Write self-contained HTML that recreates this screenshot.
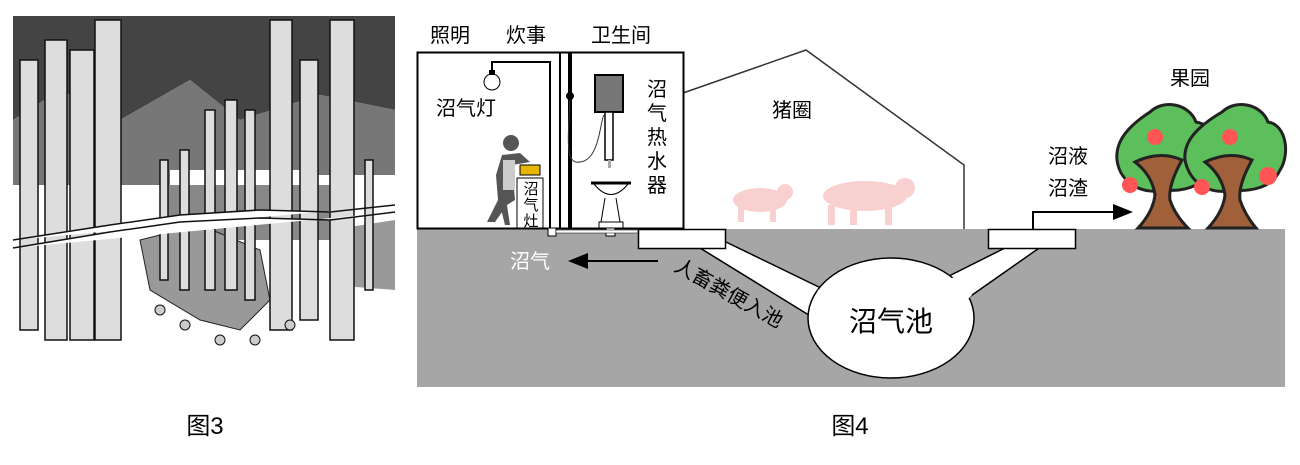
<!DOCTYPE html>
<html><head><meta charset="utf-8"><style>
body{margin:0;width:1300px;height:460px;background:#fff;overflow:hidden;font-family:"Liberation Sans","Noto Sans CJK SC",sans-serif}
svg text{font-family:"Liberation Sans","Noto Sans CJK SC",sans-serif}
</style></head><body>
<svg width="1300" height="460" viewBox="0 0 1300 460">
<!-- Figure 3 forest -->
<g>
<rect x="13" y="16" width="382" height="346" fill="#fff"/>
<path d="M13 16H395V110L320 95 240 120 190 80 120 120 60 90 13 120Z" fill="#444"/>
<path d="M13 120 60 90 120 120 190 80 240 120 320 95 395 110V175H300V170H170V185H13Z" fill="#777"/>
<path d="M160 185H330V240H160Z" fill="#888"/>
<path d="M140 240 200 225 260 250 270 300 240 330 200 320 150 290Z" fill="#999" stroke="#222"/>
<path d="M330 230 395 220V290L330 285Z" fill="#999"/>
<g fill="#ddd" stroke="#111" stroke-width="1.5">
<rect x="20" y="60" width="18" height="270"/>
<rect x="45" y="40" width="22" height="300"/>
<rect x="70" y="50" width="24" height="290"/>
<rect x="95" y="20" width="26" height="320"/>
<rect x="160" y="160" width="8" height="120"/>
<rect x="180" y="150" width="9" height="140"/>
<rect x="205" y="110" width="10" height="180"/>
<rect x="225" y="100" width="12" height="190"/>
<rect x="245" y="110" width="10" height="190"/>
<rect x="270" y="20" width="22" height="310"/>
<rect x="300" y="60" width="18" height="260"/>
<rect x="330" y="20" width="24" height="320"/>
<rect x="365" y="160" width="8" height="130"/>
</g>
<g stroke="#111" stroke-width="1.5" fill="#fff">
<path d="M13 240L110 225 180 215 260 210 330 212 395 205"/>
<path d="M13 248L110 232 180 222 260 218 330 220 395 212"/>
</g>
<g fill="#ccc" stroke="#111">
<circle cx="160" cy="310" r="5"/><circle cx="185" cy="325" r="5"/><circle cx="220" cy="340" r="5"/><circle cx="255" cy="340" r="5"/><circle cx="290" cy="325" r="5"/>
</g>
</g>
<text x="205" y="434" font-size="24" text-anchor="middle">图3</text>
<text x="850" y="434" font-size="24" text-anchor="middle">图4</text>

<!-- Figure 4 -->
<rect x="417" y="229" width="868" height="158" fill="#a6a6a6"/>
<!-- pig house -->
<polyline points="683,93 806,50 964,165 964,229" fill="none" stroke="#333" stroke-width="1.5"/>
<text x="792" y="117" font-size="20" text-anchor="middle">猪圈</text>
<g fill="#f9d0d0">
<ellipse cx="760" cy="200" rx="27" ry="12"/><circle cx="785" cy="192" r="8"/>
<rect x="738" y="205" width="6" height="17"/><rect x="770" y="205" width="6" height="17"/>
<ellipse cx="865" cy="196" rx="42" ry="15"/><circle cx="905" cy="188" r="10"/>
<rect x="828" y="205" width="7" height="20"/><rect x="850" y="205" width="7" height="20"/><rect x="885" y="205" width="7" height="20"/>
</g>
<!-- house -->
<rect x="417.5" y="52.5" width="266" height="176" fill="#fff" stroke="#000" stroke-width="2"/>
<text x="450" y="42" font-size="20" text-anchor="middle">照明</text>
<text x="526" y="42" font-size="20" text-anchor="middle">炊事</text>
<text x="621" y="42" font-size="20" text-anchor="middle">卫生间</text>
<line x1="560" y1="53" x2="560" y2="228" stroke="#000" stroke-width="2"/>
<line x1="570" y1="53" x2="570" y2="228" stroke="#000" stroke-width="4"/>
<polyline points="492,72 492,62 550,62 550,228" fill="none" stroke="#000" stroke-width="2"/>
<circle cx="492" cy="82" r="8" fill="#fff" stroke="#000"/>
<rect x="489" y="70" width="6" height="5" fill="#000"/>
<text x="466" y="115" font-size="20" text-anchor="middle">沼气灯</text>
<circle cx="570" cy="96" r="4" fill="#000"/>
<path d="M570 100C568 140 565 165 580 162 600 160 600 120 604 115" fill="none" stroke="#333"/>
<rect x="595" y="75" width="28" height="37" fill="#777" stroke="#000" stroke-width="2"/>
<rect x="605" y="112" width="8" height="48" fill="#fff" stroke="#000" stroke-width="1.5"/>
<rect x="608" y="160" width="3" height="8" fill="#aaa"/>
<line x1="591" y1="183" x2="631" y2="183" stroke="#000" stroke-width="3"/>
<path d="M594 184Q611 205 628 184Z" fill="#fff" stroke="#000"/>
<path d="M605 198 601 222H620L616 198" fill="#fff" stroke="#000"/>
<rect x="599" y="222" width="24" height="6" fill="#fff" stroke="#000"/>
<g font-size="20" text-anchor="middle"><text x="657" y="96">沼</text><text x="657" y="120">气</text><text x="657" y="144">热</text><text x="657" y="168">水</text><text x="657" y="192">器</text></g>
<!-- person -->
<circle cx="511" cy="143" r="8" fill="#555"/>
<path d="M502 155 520 153 530 162 512 165 515 200 507 205 495 222 487 222 498 200 496 175Z" fill="#555"/>
<rect x="503" y="160" width="12" height="30" fill="#ccc"/>
<path d="M507 205 510 225 505 225 500 205Z" fill="#555"/>
<rect x="517" y="178" width="26" height="50" fill="#fff" stroke="#000"/>
<path d="M520 165H540V175H520Z" fill="#e8b400" stroke="#000"/>
<g font-size="15" text-anchor="middle"><text x="531" y="194">沼</text><text x="531" y="210">气</text><text x="531" y="226">灶</text></g>
<rect x="548" y="228" width="8" height="8" fill="#fff" stroke="#000"/>
<rect x="606" y="228" width="9" height="8" fill="#fff" stroke="#000"/>
<rect x="556" y="230" width="82" height="3" fill="#fff" stroke="#000" stroke-width=".5"/>
<!-- pipes -->
<path d="M700 248 726 242 825 290 812 317Z" fill="#fff"/>
<line x1="700" y1="248" x2="812" y2="317" stroke="#000" stroke-width="1.5"/>
<line x1="726" y1="242" x2="825" y2="290" stroke="#000" stroke-width="1.5"/>
<path d="M1005 248 1042 246 965 300 945 278Z" fill="#fff"/>
<line x1="1005" y1="248" x2="945" y2="278" stroke="#000" stroke-width="1.5"/>
<line x1="1042" y1="246" x2="965" y2="300" stroke="#000" stroke-width="1.5"/>
<ellipse cx="891" cy="318" rx="83" ry="60" fill="#fff" stroke="#000" stroke-width="1.5"/>
<path d="M818 290 830 288 835 300 818 318 810 312Z" fill="#fff"/>
<path d="M942 282 960 275 972 295 962 305Z" fill="#fff"/>
<rect x="638.5" y="229.5" width="87" height="19" fill="#fff" stroke="#000" stroke-width="1.5"/>
<rect x="988.5" y="229.5" width="87" height="19" fill="#fff" stroke="#000" stroke-width="1.5"/>
<path d="M705 247 724 247 724 243 705 247Z" fill="#fff"/>
<text x="891" y="331" font-size="28" text-anchor="middle">沼气池</text>
<text x="0" y="0" font-size="20" transform="translate(673,270) rotate(29)">人畜粪便入池</text>
<line x1="658" y1="261" x2="585" y2="261" stroke="#000" stroke-width="2"/>
<path d="M568 261 588 253V269Z" fill="#000"/>
<text x="530" y="268" font-size="20" fill="#fff" text-anchor="middle">沼气</text>
<!-- right arrow -->
<polyline points="1033,229 1033,212 1115,212" fill="none" stroke="#000" stroke-width="2"/>
<path d="M1133 212 1113 204V220Z" fill="#000"/>
<text x="1068" y="163" font-size="20" text-anchor="middle">沼液</text>
<text x="1068" y="195" font-size="20" text-anchor="middle">沼渣</text>
<text x="1190" y="85" font-size="20" text-anchor="middle">果园</text>
<!-- trees -->
<g stroke="#222" stroke-width="3" fill="#5cbf5c">
<path d="M1150 112C1165 98 1190 105 1196 122 1215 125 1225 150 1212 165 1208 185 1185 192 1165 190 1145 195 1120 185 1117 160 1115 140 1130 125 1150 112Z"/>
<path d="M1222 112C1237 98 1262 105 1268 122 1287 125 1290 155 1280 170 1272 188 1250 192 1232 190 1212 195 1190 185 1185 160 1183 140 1200 125 1222 112Z"/>
</g>
<g stroke="#222" stroke-width="3" fill="#a0603a">
<path d="M1135 162Q1160 150 1182 160 1168 185 1170 200 1175 215 1188 228H1138Q1153 212 1155 195 1152 175 1135 162Z"/>
<path d="M1205 162Q1230 150 1252 160 1238 185 1240 200 1245 215 1256 228H1208Q1223 212 1225 195 1222 175 1205 162Z"/>
</g>
<g fill="#f55">
<circle cx="1155" cy="137" r="8"/><circle cx="1130" cy="185" r="8"/><circle cx="1230" cy="137" r="8"/><circle cx="1202" cy="187" r="8"/><circle cx="1268" cy="176" r="9"/>
</g>
</svg>
</body></html>
